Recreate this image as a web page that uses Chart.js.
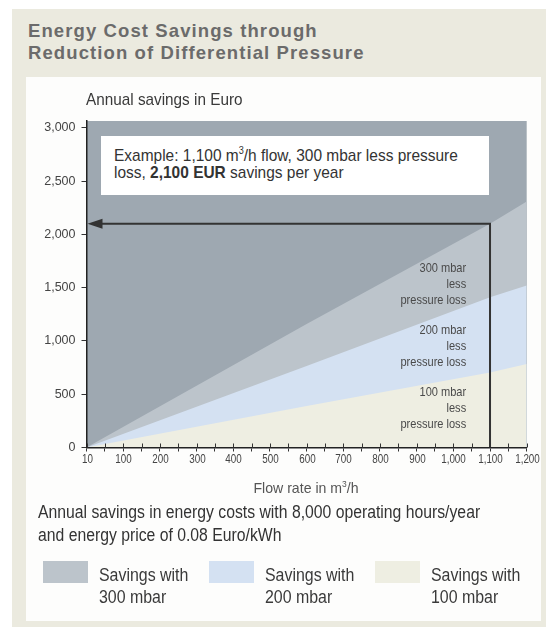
<!DOCTYPE html>
<html>
<head>
<meta charset="utf-8">
<script src="https://cdn.jsdelivr.net/npm/chart.js@4.4.1/dist/chart.umd.min.js"></script>
<style>
  body { margin: 0; width: 551px; height: 627px; background: #fff; overflow: hidden; position: relative;
         font-family: "Liberation Sans", Arial, sans-serif; }
  #frame { position: absolute; left: 12px; top: 9px; width: 534px; height: 620px; background: #ebeadf; }
  #panel { position: absolute; left: 26px; top: 77px; width: 515px; height: 544px; background: #fdfdfc; }
  #title { position: absolute; left: 28px; top: 20px; font-weight: bold; font-size: 18.5px; line-height: 22px;
           color: #6b6b6b; letter-spacing: 1.1px; }
  #chart { position: absolute; left: 0; top: 0; }
  .txt { position: absolute; white-space: nowrap; color: #333; transform-origin: left center; }
  #yTitle { left: 86px; top: 90px; font-size: 17px; line-height: 20px; color: #3a3a3a; transform: scaleX(0.9); }
  #xTitle { left: 306px; top: 475px; transform: translateX(-50%) scaleX(0.94); transform-origin: center;
            font-size: 15px; line-height: 18px; color: #555; }
  #example { position: absolute; left: 101px; top: 135.5px; width: 388px; height: 59.5px; background: #fff; }
  #example div { position: absolute; left: 13px; font-size: 17px; line-height: 22px; color: #333; white-space: nowrap;
                 transform: scaleX(0.91); transform-origin: left center; }
  #note { left: 38px; top: 501px; font-size: 17.5px; line-height: 23.3px; color: #333; transform: scaleX(0.9); }
  .sw { position: absolute; top: 560.7px; width: 45.6px; height: 22.6px; }
  .lg { position: absolute; top: 565px; font-size: 17.5px; line-height: 21.5px; color: #3a3a3a; white-space: nowrap;
        transform: scaleX(0.91); transform-origin: left center; }
</style>
</head>
<body>
<div id="frame"></div>
<div id="panel"></div>
<div id="title">Energy Cost Savings through<br>Reduction of Differential Pressure</div>
<canvas id="chart" width="551" height="627"></canvas>
<div id="yTitle" class="txt">Annual savings in Euro</div>
<div id="xTitle" class="txt">Flow rate in m<sup style="font-size:9px">3</sup>/h</div>
<div id="example">
  <div style="top:4px">Example: 1,100 m<sup style="font-size:10px">3</sup>/h flow, 300 mbar less pressure</div>
  <div style="top:26px">loss, <b>2,100 EUR</b> savings per year</div>
</div>
<div id="note" class="txt">Annual savings in energy costs with 8,000 operating hours/year<br>and energy price of 0.08 Euro/kWh</div>
<div id="legend"></div>

<script>
// values
const flowRates = [0, 600, 1100, 1200];
const savings300 = [0, 1160, 2100, 2310];
const savings200 = [0, 765, 1410, 1520];
const savings100 = [0, 390, 705, 785];

const xTickLabels = ['10', '100', '200', '300', '400', '500', '600', '700', '800', '900', '1,000', '1,100', '1,200'];
const yTickValues = [0, 500, 1000, 1500, 2000, 2500, 3000];
const yTickLabels = ['0', '500', '1,000', '1,500', '2,000', '2,500', '3,000'];

const exampleFlow = 1100;
const exampleSavings = 2100;

const seriesNames = ['Savings with\n300 mbar', 'Savings with\n200 mbar', 'Savings with\n100 mbar'];
const seriesColors = ['#bcc4cb', '#d4e1f2', '#eeeee2'];
const areaLabels = [
    ['300 mbar', 'less', 'pressure loss'],
    ['200 mbar', 'less', 'pressure loss'],
    ['100 mbar', 'less', 'pressure loss']
];

const sansFont = '"Liberation Sans", Arial, sans-serif';

function points(values) {
    return flowRates.map((f, i) => ({ x: f, y: values[i] }));
}

// html legend
const legendEl = document.getElementById('legend');
seriesNames.forEach((name, i) => {
    const left = 42.7 + i * 166;
    const sw = document.createElement('div');
    sw.className = 'sw';
    sw.style.left = left + 'px';
    sw.style.background = seriesColors[i];
    legendEl.appendChild(sw);
    const lg = document.createElement('div');
    lg.className = 'lg';
    lg.style.left = (left + 56.6) + 'px';
    lg.innerHTML = name.replace('\n', '<br>');
    legendEl.appendChild(lg);
});

// condensed-looking text: squeeze horizontally
function narrowText(ctx, text, x, y, squeeze) {
    ctx.save();
    ctx.translate(x, y);
    ctx.scale(squeeze, 1);
    ctx.fillText(text, 0, 0);
    ctx.restore();
}

const plotDecor = {
    id: 'plotDecor',
    beforeDraw(chart) {
        const a = chart.chartArea;
        const ctx = chart.ctx;
        ctx.save();
        ctx.fillStyle = '#9ea8b1';
        ctx.fillRect(a.left, a.top, a.right - a.left, a.bottom - a.top);
        ctx.restore();
    },
    afterDatasetsDraw(chart) {
        const ctx = chart.ctx;
        const x = chart.scales.x;
        const y = chart.scales.y;
        ctx.save();

        // area labels
        ctx.font = '13px ' + sansFont;
        ctx.fillStyle = '#4a4a4a';
        ctx.textAlign = 'right';
        ctx.textBaseline = 'middle';
        const anchors = [1685, 1096, 515];
        areaLabels.forEach((lines, i) => {
            const px = x.getPixelForValue(1035);
            const py = y.getPixelForValue(anchors[i]);
            lines.forEach((t, j) => narrowText(ctx, t, px, py + j * 16, 0.85));
        });

        // example arrow
        const ex = x.getPixelForValue(exampleFlow);
        const ey = y.getPixelForValue(exampleSavings);
        ctx.strokeStyle = '#333';
        ctx.fillStyle = '#333';
        ctx.lineWidth = 2;
        ctx.beginPath();
        ctx.moveTo(ex, y.getPixelForValue(0));
        ctx.lineTo(ex, ey);
        ctx.lineTo(x.left + 12, ey);
        ctx.stroke();
        ctx.beginPath();
        ctx.moveTo(x.left + 1, ey);
        ctx.lineTo(x.left + 16, ey - 5);
        ctx.lineTo(x.left + 16, ey + 5);
        ctx.closePath();
        ctx.fill();
        ctx.restore();
    },
    afterDraw(chart) {
        const ctx = chart.ctx;
        const x = chart.scales.x;
        ctx.save();
        ctx.strokeStyle = '#333';
        ctx.lineWidth = 1;
        ctx.fillStyle = '#444';
        ctx.font = '12px ' + sansFont;
        ctx.textAlign = 'center';
        ctx.textBaseline = 'middle';
        x.ticks.forEach(t => {
            const px = Math.round(x.getPixelForValue(t.value)) + 0.5;
            ctx.beginPath();
            ctx.moveTo(px, x.top - 4);
            ctx.lineTo(px, x.top);
            ctx.stroke();
            if (t.value % 100 === 0) {
                narrowText(ctx, xTickLabels[t.value / 100], px, x.top + 12, 0.82);
            }
        });
        ctx.restore();
    }
};

new Chart(document.getElementById('chart'), {
    type: 'line',
    data: {
        datasets: [
            { label: '100 mbar', data: points(savings100), backgroundColor: seriesColors[2], fill: 'origin' },
            { label: '200 mbar', data: points(savings200), backgroundColor: seriesColors[1], fill: 'origin' },
            { label: '300 mbar', data: points(savings300), backgroundColor: seriesColors[0], fill: 'origin' }
        ]
    },
    options: {
        responsive: false,
        animation: false,
        layout: { padding: { top: 121, right: 24.3, left: 0, bottom: 0 } },
        elements: {
            line: { borderWidth: 0, tension: 0 },
            point: { radius: 0 }
        },
        plugins: {
            legend: { display: false },
            tooltip: { enabled: false }
        },
        scales: {
            x: {
                type: 'linear',
                min: 0,
                max: 1200,
                afterFit: s => { s.height = 179.5; },
                grid: { drawOnChartArea: false, tickLength: 4, color: '#333' },
                border: { color: '#222', width: 1.5, z: 1 },
                ticks: {
                    display: false,
                    stepSize: 50,
                    autoSkip: false,
                    maxRotation: 0
                }
            },
            y: {
                min: 0,
                max: 3065,
                afterFit: s => { s.width = 86.5; },
                afterBuildTicks: s => { s.ticks = yTickValues.map(v => ({ value: v })); },
                grid: { drawOnChartArea: false, tickLength: 5, color: '#333' },
                border: { color: '#222', width: 1.5, z: 1 },
                ticks: {
                    padding: 6,
                    autoSkip: false,
                    color: '#444',
                    font: { family: sansFont, size: 12.5 },
                    callback: (v, i) => yTickLabels[yTickValues.indexOf(v)]
                }
            }
        }
    },
    plugins: [plotDecor]
});
</script>
</body>
</html>
